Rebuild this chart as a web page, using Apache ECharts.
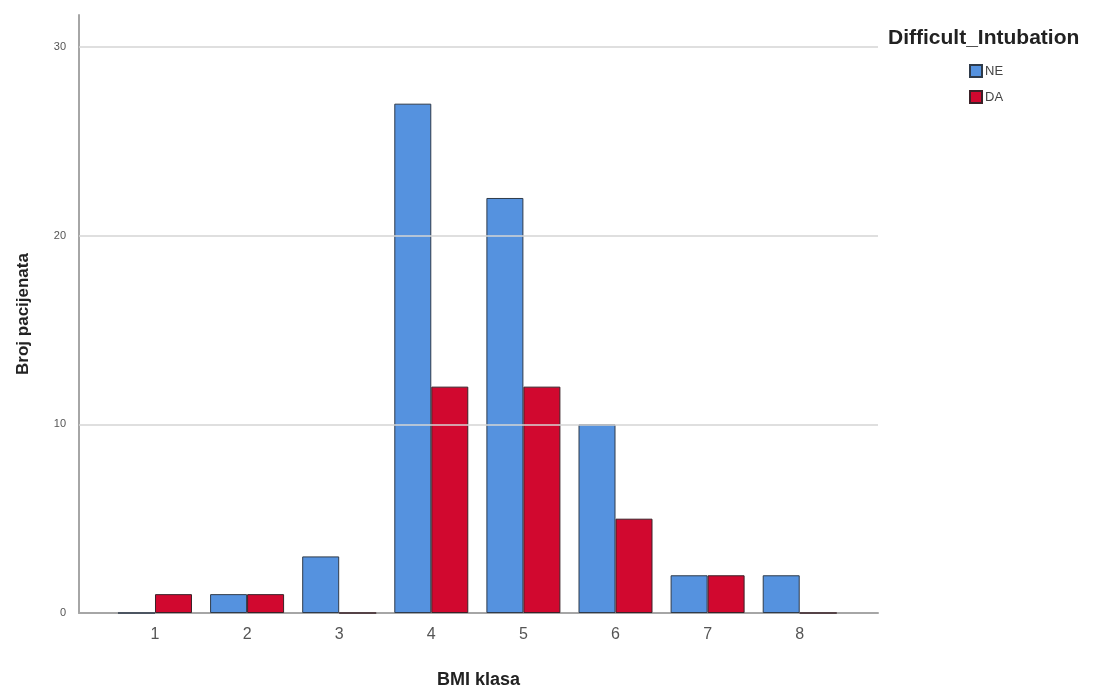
<!DOCTYPE html>
<html>
<head>
<meta charset="utf-8">
<script src="https://cdn.jsdelivr.net/npm/echarts@6/dist/echarts.min.js"></script>
<style>html,body{margin:0;padding:0;background:#fff;}#c{width:1094px;height:690px;}</style>
</head>
<body>
<div id="c"></div>
<script>
const categories = [1, 2, 3, 4, 5, 6, 7, 8];
const neValues = [0, 1, 3, 27, 22, 10, 2, 2];
const daValues = [1, 1, 0, 12, 12, 5, 2, 0];
const yTicks = [10, 20, 30];

const chart = echarts.init(document.getElementById('c'));
const font = 'Liberation Sans, Arial, sans-serif';
chart.setOption({
  backgroundColor: '#fff',
  animation: false,
  grid: { left: 79, right: 216, top: 15, bottom: 77, outerBoundsMode: 'none', containLabel: false },
  legend: {
    data: ['NE', 'DA'],
    orient: 'vertical',
    left: 964, top: 59,
    itemWidth: 12, itemHeight: 12, itemGap: 12,
    textStyle: { fontFamily: font, fontSize: 13, color: '#444', padding: [0,0,0,-2] },
    icon: 'rect'
  },
  graphic: [{
    type: 'text', left: 888, top: 28,
    style: { text: 'Difficult_Intubation', font: 'bold 21px ' + font, fill: '#222' }
  }],
  xAxis: {
    type: 'value', min: 0.175, max: 8.85, interval: 0.025,
    name: 'BMI klasa', nameLocation: 'middle', nameGap: 58,
    nameTextStyle: { fontFamily: font, fontSize: 18, fontWeight: 'bold', color: '#222' },
    axisLine: { lineStyle: { color: '#a6a6a6', width: 2 } },
    axisTick: { show: false },
    splitLine: { show: false },
    axisLabel: {
      fontFamily: font, fontSize: 16, color: '#555', margin: 14,
      showMinLabel: false, showMaxLabel: false, hideOverlap: false,
      formatter: v => (Math.abs(v - Math.round(v)) < 1e-4 && categories.includes(Math.round(v))) ? String(Math.round(v)) : ''
    }
  },
  yAxis: {
    type: 'value', min: 0, max: 31.7, interval: 10,
    name: 'Broj pacijenata', nameLocation: 'middle', nameGap: 47, nameRotate: 90,
    nameTextStyle: { fontFamily: font, fontSize: 17, fontWeight: 'bold', color: '#222' },
    axisLine: { show: true, lineStyle: { color: '#a6a6a6', width: 2 } },
    axisTick: { show: false },
    splitLine: { show: false },
    axisLabel: {
      fontFamily: font, fontSize: 11, color: '#555', margin: 13,
      showMaxLabel: false,
      formatter: v => (Math.abs(v % 10) < 1e-6) ? String(v) : ''
    }
  },
  series: [
    {
      name: 'NE', type: 'bar', barWidth: 37, barGap: '0%',
      data: categories.map((c, i) => [c, neValues[i]]),
      itemStyle: { color: '#5592DF', borderColor: '#2f3b4a', borderWidth: 1 },
      markLine: {
        silent: true, symbol: 'none', label: { show: false },
        lineStyle: { color: '#d4d4d4', width: 1.5, type: 'solid' },
        data: yTicks.map(t => ({ yAxis: t }))
      },
      z: 3
    },
    {
      name: 'DA', type: 'bar', barWidth: 37, barGap: '0%',
      data: categories.map((c, i) => [c, daValues[i]]),
      itemStyle: { color: '#D1082F', borderColor: '#3a2228', borderWidth: 1 },
      z: 3
    }
  ]
});
</script>
</body>
</html>
